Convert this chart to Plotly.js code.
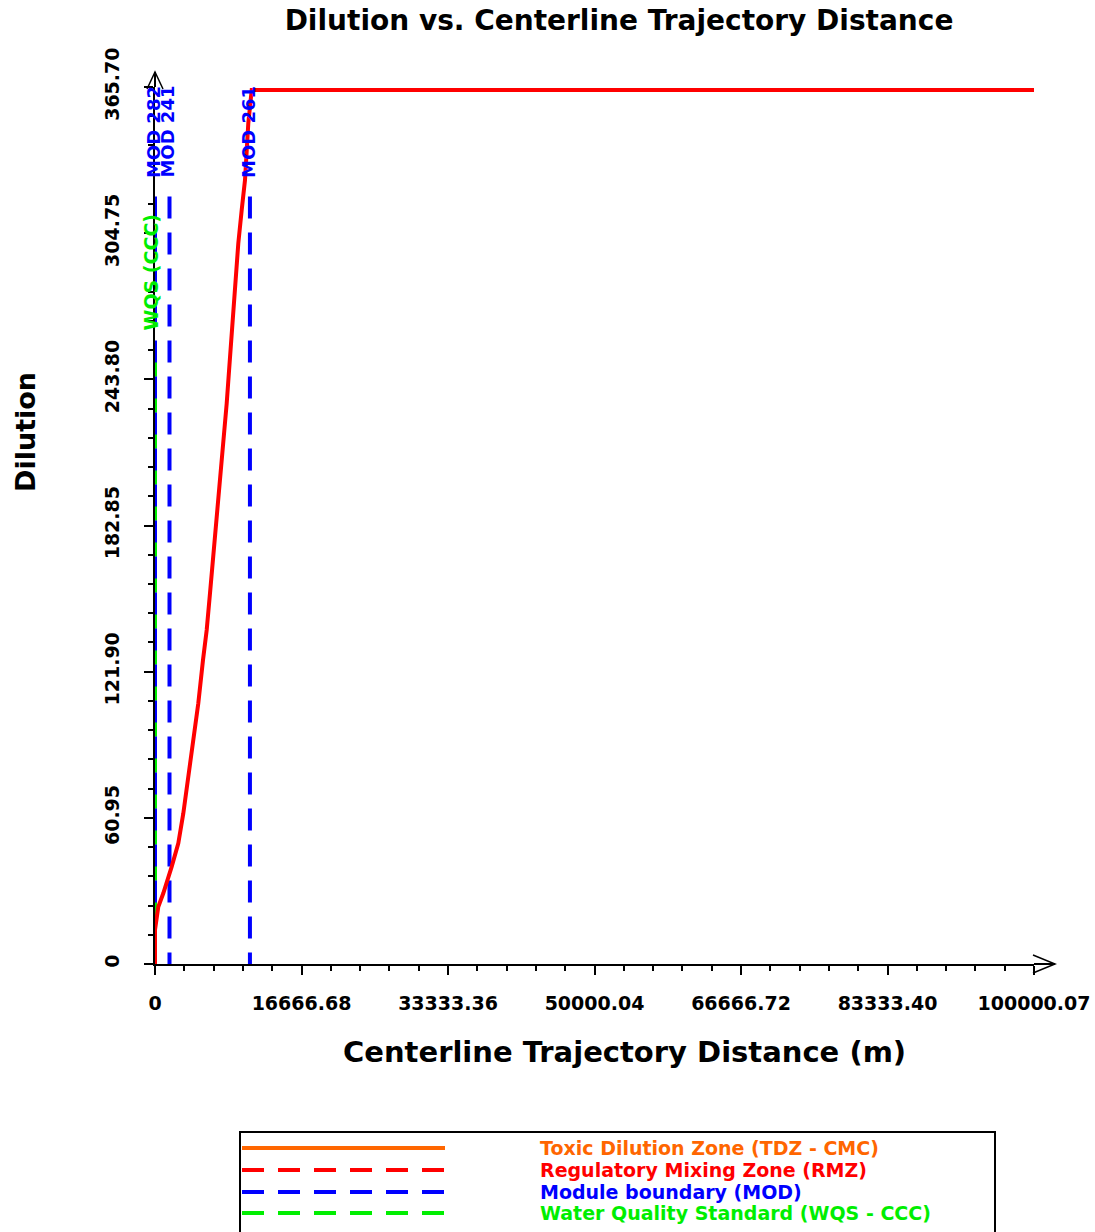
<!DOCTYPE html>
<html><head><meta charset="utf-8">
<script src="https://cdn.plot.ly/plotly-3.0.1.min.js"></script>
<style>html,body{margin:0;padding:0;background:#fff}</style>
</head><body>
<div id="chart" style="width:1095px;height:1232px"></div>
<script>
// ---- data ----
const distance = [0, 0, 375, 944, 1900, 2651, 3220, 3840, 4357, 4926, 5461, 5882, 6257, 6633, 7088, 7475, 7850, 8157, 8430, 8726, 9102, 9477, 9864, 10239, 10615, 11002, 100000.07];
const dilution = [0, 14.2, 23.9, 29.5, 40.6, 50.3, 62.8, 79.5, 94.8, 108.7, 126.8, 139.3, 154.6, 169.8, 187.9, 203.2, 219.9, 233.8, 247.7, 263.0, 282.4, 300.5, 314.4, 326.9, 350.6, 364.5, 364.5];
const modX = [0, 1650, 10800];
const modLabels = ['MOD 282', 'MOD 241', 'MOD 261'];
const modTop = 320;
const modLabelY = 326.9;
const wqsX = 0;
const wqsTop = 254;
const wqsLabel = 'WQS (CCC)';
const wqsLabelY = 263.1;
const xTickVals = [0, 16666.68, 33333.36, 50000.04, 66666.72, 83333.40, 100000.07];
const xTickText = ['0', '16666.68', '33333.36', '50000.04', '66666.72', '83333.40', '100000.07'];
const yTickVals = [0, 60.95, 121.90, 182.85, 243.80, 304.75, 365.70];
const yTickText = ['0', '60.95', '121.90', '182.85', '243.80', '304.75', '365.70'];
const legendLabels = ['Toxic Dilution Zone (TDZ - CMC)', 'Regulatory Mixing Zone (RMZ)', 'Module boundary (MOD)', 'Water Quality Standard (WQS - CCC)'];
const legendColors = ['#ff6600', '#ff0000', '#0000ff', '#00ee00'];
const legendDash = ['solid', '22px,14px', '22px,14px', '22px,14px'];

// ---- layout helpers (pixel -> paper) ----
const W = 1095, H = 1232, L = 155, R = 61, T = 87, B = 268;
const PW = W - L - R, PH = H - T - B;
const px = p => (p - L) / PW;
const py = p => (H - B - p) / PH;
const FONT = '"DejaVu Sans", "Liberation Sans", Arial, sans-serif';

// ---- traces ----
const modXs = [], modYs = [];
modX.forEach(v => { modXs.push(v, v, null); modYs.push(modTop, 0, null); });

const traces = [
  {x: [wqsX, wqsX], y: [wqsTop, 0], mode: 'lines', name: 'WQS', showlegend: false, cliponaxis: false,
   line: {color: '#00ee00', width: 4, dash: '22px,14px'}, hoverinfo: 'skip'},
  {x: modXs, y: modYs, mode: 'lines', name: 'MOD', showlegend: false, cliponaxis: false,
   line: {color: '#0000ff', width: 4, dash: '22px,14px'}, connectgaps: false, hoverinfo: 'skip'},
  {x: distance, y: dilution, mode: 'lines', name: 'Dilution', showlegend: false, cliponaxis: false,
   line: {color: '#ff0000', width: 4}}
];

// ---- shapes: axis extensions, arrows, legend ----
const shapes = [];
const axLine = {color: '#000', width: 2};
shapes.push({type: 'line', xref: 'paper', yref: 'paper', x0: 0, x1: 0, y0: 1, y1: py(72), line: axLine});
shapes.push({type: 'line', xref: 'paper', yref: 'paper', x0: 0, x1: 0, y0: 0, y1: py(970), line: axLine});
shapes.push({type: 'line', xref: 'paper', yref: 'paper', x0: 1, x1: px(1055), y0: 0, y1: 0, line: axLine});
shapes.push({type: 'line', xref: 'paper', yref: 'paper', x0: px(148), x1: 0, y0: 0, y1: 0, line: axLine});
shapes.push({type: 'path', xref: 'paper', yref: 'paper',
  path: `M ${px(147)},${py(89)} L ${px(155)},${py(72)} L ${px(163)},${py(89)}`, line: {color: '#000', width: 1.5}});
shapes.push({type: 'path', xref: 'paper', yref: 'paper',
  path: `M ${px(1033)},${py(955)} L ${px(1055)},${py(964)} L ${px(1033)},${py(973)}`, line: {color: '#000', width: 1.5}});
// legend box
shapes.push({type: 'rect', xref: 'paper', yref: 'paper', x0: px(240), x1: px(995), y0: py(1132), y1: py(1260),
  line: {color: '#000', width: 2}, fillcolor: 'rgba(0,0,0,0)'});
const legendRows = [1148, 1170, 1192, 1213];
legendLabels.forEach((lab, i) => {
  shapes.push({type: 'line', xref: 'paper', yref: 'paper', x0: px(242), x1: px(445), y0: py(legendRows[i]), y1: py(legendRows[i]),
    line: {color: legendColors[i], width: 4, dash: legendDash[i]}});
});

// ---- annotations ----
const annotations = [];
modX.forEach((v, i) => {
  annotations.push({x: v, y: modLabelY, xref: 'x', yref: 'y', text: modLabels[i], textangle: -90, showarrow: false,
    xanchor: 'center', yanchor: 'bottom', xshift: -2,
    font: {family: FONT, size: 18, color: '#0000ff', weight: 'bold'}});
});
annotations.push({x: wqsX, y: wqsLabelY, xref: 'x', yref: 'y', text: wqsLabel, textangle: -90, showarrow: false,
  xanchor: 'center', yanchor: 'bottom', xshift: -4,
  font: {family: FONT, size: 19, color: '#00ee00', weight: 'bold'}});
annotations.push({x: px(624), y: py(1052), xref: 'paper', yref: 'paper', text: 'Centerline Trajectory Distance (m)',
  showarrow: false, xanchor: 'center', yanchor: 'middle', font: {family: FONT, size: 29, color: '#000', weight: 'bold'}});
annotations.push({x: px(25), y: py(432), xref: 'paper', yref: 'paper', text: 'Dilution', textangle: -90,
  showarrow: false, xanchor: 'center', yanchor: 'middle', font: {family: FONT, size: 27, color: '#000', weight: 'bold'}});
legendLabels.forEach((lab, i) => {
  annotations.push({x: px(538), y: py(legendRows[i]), xref: 'paper', yref: 'paper', text: lab, showarrow: false,
    xanchor: 'left', yanchor: 'middle', font: {family: FONT, size: 19, color: legendColors[i], weight: 'bold'}});
});

const tickFont = {family: FONT, size: 19, color: '#000', weight: 'bold'};
const layout = {
  width: W, height: H,
  margin: {l: L, r: R, t: T, b: B},
  paper_bgcolor: '#fff', plot_bgcolor: '#fff',
  showlegend: false,
  title: {text: 'Dilution vs. Centerline Trajectory Distance', x: 619 / W, xref: 'container', xanchor: 'center',
    y: 1 - 20 / H, yref: 'container', yanchor: 'middle', font: {family: FONT, size: 28, color: '#000', weight: 'bold'}},
  xaxis: {range: [0, 100000.07], fixedrange: true, showgrid: false, zeroline: false,
    showline: true, linecolor: '#000', linewidth: 2, layer: 'below traces',
    ticks: 'outside', ticklen: 9, tickwidth: 2, tickcolor: '#000',
    tickmode: 'array', tickvals: xTickVals, ticktext: xTickText, tickfont: tickFont, ticklabelstandoff: 12,
    minor: {tick0: 0, dtick: 3333.336, ticks: 'outside', ticklen: 5, tickwidth: 2, tickcolor: '#000', showgrid: false}},
  yaxis: {range: [0, 365.70], fixedrange: true, showgrid: false, zeroline: false,
    showline: true, linecolor: '#000', linewidth: 2, layer: 'below traces',
    ticks: 'outside', ticklen: 9, tickwidth: 2, tickcolor: '#000',
    tickmode: 'array', tickvals: yTickVals, ticktext: yTickText, tickfont: tickFont, tickangle: -90, ticklabelstandoff: 17,
    minor: {tick0: 0, dtick: 12.19, ticks: 'outside', ticklen: 5, tickwidth: 2, tickcolor: '#000', showgrid: false}},
  shapes: shapes,
  annotations: annotations
};

Plotly.newPlot('chart', traces, layout, {displayModeBar: false, staticPlot: true});
</script>
</body></html>
